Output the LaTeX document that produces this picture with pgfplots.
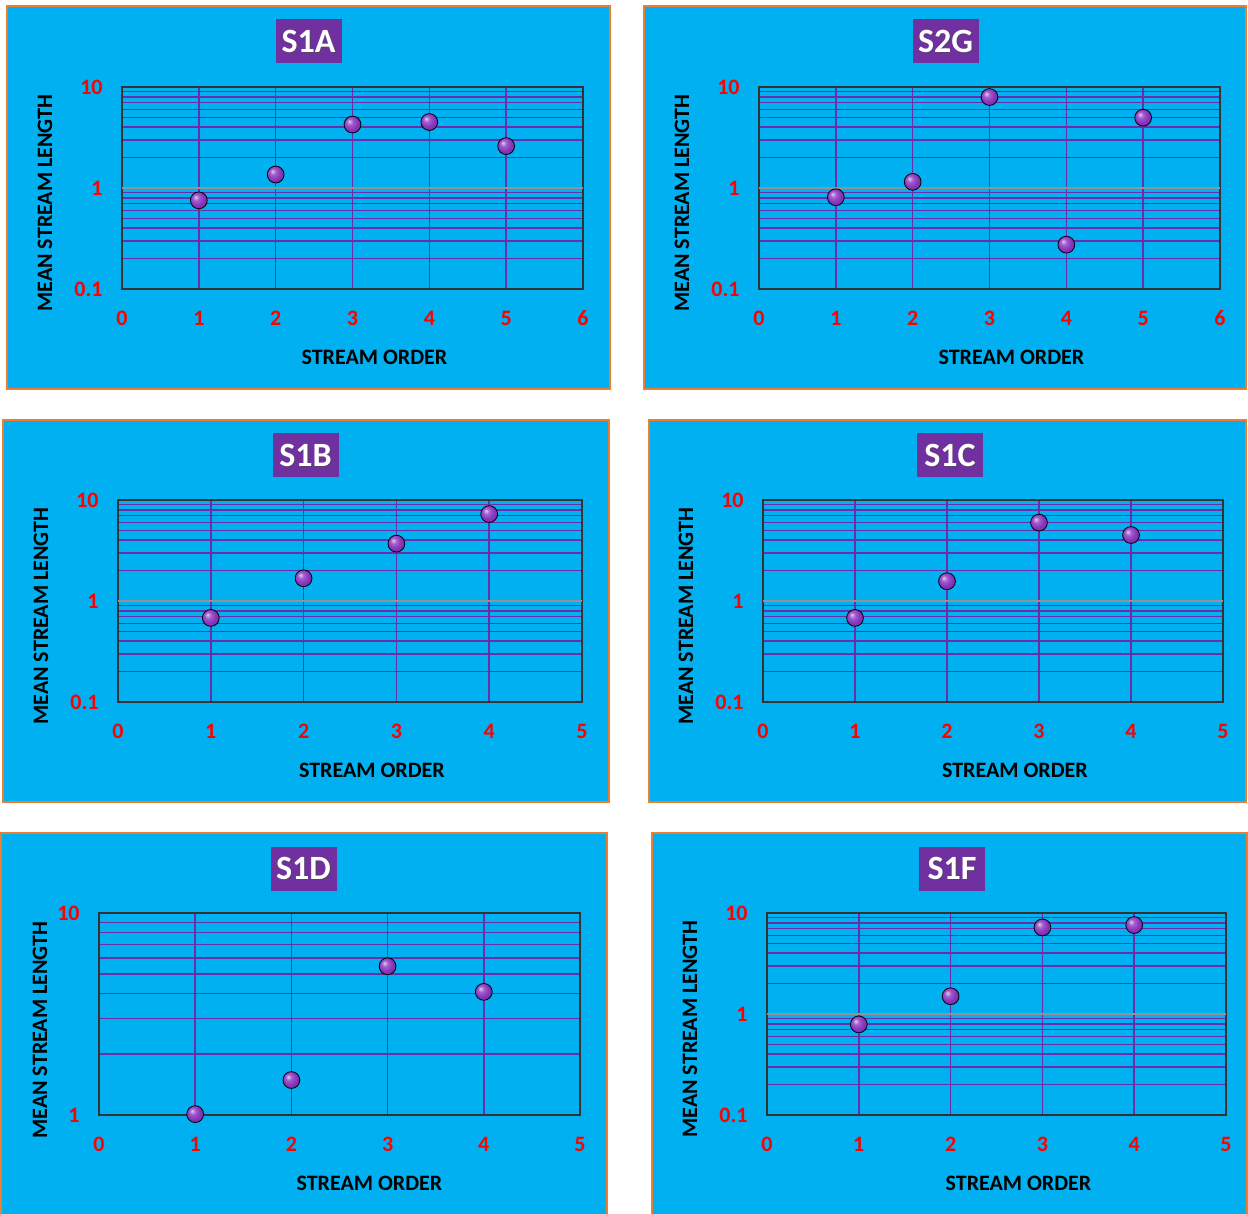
\documentclass[border=0pt]{standalone}
\usepackage{pgfplots}
\pgfplotsset{compat=1.18}
\usepackage{fontspec}
\setmainfont{Carlito}
\definecolor{bg}{HTML}{00B0F0}
\definecolor{bord}{HTML}{ED7D31}
\definecolor{pur}{HTML}{6A2FA8}
\definecolor{ballc}{HTML}{8A35C0}
\definecolor{titlec}{HTML}{7030A0}

\makeatletter
\pgfdeclareradialshading[tikz@ball]{ball}{\pgfqpoint{-10bp}{10bp}}{%
  color(0bp)=(tikz@ball!25!white); color(9bp)=(tikz@ball!80!white);
  color(20bp)=(tikz@ball); color(30bp)=(tikz@ball!85!black); color(50bp)=(tikz@ball!55!black)}
\makeatother

\pgfplotsset{
  mypanel/.style={
    scale only axis, height=101pt,
    xmajorgrids, ymajorgrids, yminorgrids,
    major grid style={draw=pur, line width=0.75pt},
    minor grid style={draw=pur, line width=0.75pt},
    axis line style={draw=black!80, line width=0.7pt},
    major tick length=0pt, minor tick length=0pt,
    tick label style={font=\bfseries\fontsize{11}{13}\selectfont, text=red},
    yticklabel style={anchor=east, inner sep=0pt, xshift=-9.5pt},
    xticklabel style={anchor=center, inner sep=0pt, yshift=-14.5pt},
    every axis label/.append style={font=\bfseries\fontsize{11}{13}\selectfont, text=black},
    xlabel={STREAM ORDER}, ylabel={MEAN STREAM LENGTH},
    xlabel style={at={([xshift=11pt,yshift=-34pt]axis description cs:0.5,0)}, anchor=center},
    ylabel style={at={([xshift=-38.5pt,yshift=-7.5pt]axis description cs:0,0.5)}, anchor=center},
    clip=false,
    anchor=south west,
  },
}

\newcommand{\ttl}[2]{%
  \node[fill=titlec, minimum width=33pt, minimum height=22pt, inner sep=0pt] at (#1) {};
  \node[text=black!70, opacity=0.6, font=\bfseries\fontsize{17}{20}\selectfont, inner sep=0pt] at ([xshift=0.6pt,yshift=-0.6pt]#1) {#2};
  \node[text=white, font=\bfseries\fontsize{17}{20}\selectfont, inner sep=0pt] at (#1) {#2};
}

\begin{document}
\begin{tikzpicture}
\path[use as bounding box, fill=white] (0,0) rectangle (624pt,-607pt);
% panels
\filldraw[fill=bg, draw=bord, line width=1pt] (3.5pt,-3pt) rectangle (305pt,-194.5pt);
\filldraw[fill=bg, draw=bord, line width=1pt] (322pt,-3pt) rectangle (623pt,-194.5pt);
\filldraw[fill=bg, draw=bord, line width=1pt] (1.5pt,-210pt) rectangle (304.5pt,-401pt);
\filldraw[fill=bg, draw=bord, line width=1pt] (324.5pt,-210pt) rectangle (623pt,-401pt);
\filldraw[fill=bg, draw=bord, line width=1pt] (0.5pt,-416.5pt) rectangle (303.5pt,-612pt);
\filldraw[fill=bg, draw=bord, line width=1pt] (326pt,-416.5pt) rectangle (623.5pt,-612pt);

\ttl{154.25pt,-20.5pt}{S1A}
\ttl{472.75pt,-20.5pt}{S2G}
\ttl{152.75pt,-227.5pt}{S1B}
\ttl{475pt,-227.5pt}{S1C}
\ttl{151.75pt,-434.25pt}{S1D}
\ttl{476pt,-434.25pt}{S1F}

% S1A
\begin{axis}[ymode=log, ymin=0.1, ymax=10, ytick={0.1,1,10}, yticklabels={0.1,1,10},
  minor ytick={0.2,0.3,0.4,0.5,0.6,0.7,0.8,0.9,2,3,4,5,6,7,8,9},
  xmin=0, xmax=6, xtick={0,1,2,3,4,5,6}, xticklabels={0,1,2,3,4,5,6},
  mypanel, width=230.5pt, at={(61pt,-144.5pt)}]
\draw[gray!85, line width=0.7pt] (rel axis cs:0,0.5) -- (rel axis cs:1,0.5);
\addplot[only marks, mark=ball, mark size=4.2pt, mark options={ball color=ballc}] coordinates {(1,0.755) (2,1.36) (3,4.25) (4,4.5) (5,2.6)};
\end{axis}
% S2G
\begin{axis}[ymode=log, ymin=0.1, ymax=10, ytick={0.1,1,10}, yticklabels={0.1,1,10},
  minor ytick={0.2,0.3,0.4,0.5,0.6,0.7,0.8,0.9,2,3,4,5,6,7,8,9},
  xmin=0, xmax=6, xtick={0,1,2,3,4,5,6}, xticklabels={0,1,2,3,4,5,6},
  mypanel, width=230.5pt, at={(379.5pt,-144.5pt)}]
\draw[gray!85, line width=0.7pt] (rel axis cs:0,0.5) -- (rel axis cs:1,0.5);
\addplot[only marks, mark=ball, mark size=4.2pt, mark options={ball color=ballc}] coordinates {(1,0.81) (2,1.15) (3,7.96) (4,0.275) (5,4.97)};
\end{axis}
% S1B
\begin{axis}[ymode=log, ymin=0.1, ymax=10, ytick={0.1,1,10}, yticklabels={0.1,1,10},
  minor ytick={0.2,0.3,0.4,0.5,0.6,0.7,0.8,0.9,2,3,4,5,6,7,8,9},
  xmin=0, xmax=5, xtick={0,1,2,3,4,5}, xticklabels={0,1,2,3,4,5},
  mypanel, width=232pt, at={(59pt,-351pt)}]
\draw[gray!85, line width=0.7pt] (rel axis cs:0,0.5) -- (rel axis cs:1,0.5);
\addplot[only marks, mark=ball, mark size=4.2pt, mark options={ball color=ballc}] coordinates {(1,0.68) (2,1.68) (3,3.7) (4,7.26)};
\end{axis}
% S1C
\begin{axis}[ymode=log, ymin=0.1, ymax=10, ytick={0.1,1,10}, yticklabels={0.1,1,10},
  minor ytick={0.2,0.3,0.4,0.5,0.6,0.7,0.8,0.9,2,3,4,5,6,7,8,9},
  xmin=0, xmax=5, xtick={0,1,2,3,4,5}, xticklabels={0,1,2,3,4,5},
  mypanel, width=230pt, at={(381.5pt,-351pt)}]
\draw[gray!85, line width=0.7pt] (rel axis cs:0,0.5) -- (rel axis cs:1,0.5);
\addplot[only marks, mark=ball, mark size=4.2pt, mark options={ball color=ballc}] coordinates {(1,0.68) (2,1.57) (3,5.97) (4,4.5)};
\end{axis}
% S1D
\begin{axis}[ymode=log, ymin=1, ymax=10, ytick={1,10}, yticklabels={1,10},
  minor ytick={2,3,4,5,6,7,8,9},
  xmin=0, xmax=5, xtick={0,1,2,3,4,5}, xticklabels={0,1,2,3,4,5},
  mypanel, width=240.5pt, at={(49.5pt,-557.5pt)},
  xlabel style={at={([xshift=15pt,yshift=-34pt]axis description cs:0.5,0)}, anchor=center},
  ylabel style={at={([xshift=-29.5pt,yshift=-8pt]axis description cs:0,0.5)}, anchor=center}]
\addplot[only marks, mark=ball, mark size=4.2pt, mark options={ball color=ballc}] coordinates {(1,1.01) (2,1.49) (3,5.45) (4,4.07)};
\end{axis}
% S1F
\begin{axis}[ymode=log, ymin=0.1, ymax=10, ytick={0.1,1,10}, yticklabels={0.1,1,10},
  minor ytick={0.2,0.3,0.4,0.5,0.6,0.7,0.8,0.9,2,3,4,5,6,7,8,9},
  xmin=0, xmax=5, xtick={0,1,2,3,4,5}, xticklabels={0,1,2,3,4,5},
  mypanel, width=229.5pt, at={(383.5pt,-557.5pt)}]
\draw[gray!85, line width=0.7pt] (rel axis cs:0,0.5) -- (rel axis cs:1,0.5);
\addplot[only marks, mark=ball, mark size=4.2pt, mark options={ball color=ballc}] coordinates {(1,0.79) (2,1.5) (3,7.2) (4,7.6)};
\end{axis}
\end{tikzpicture}
\end{document}
